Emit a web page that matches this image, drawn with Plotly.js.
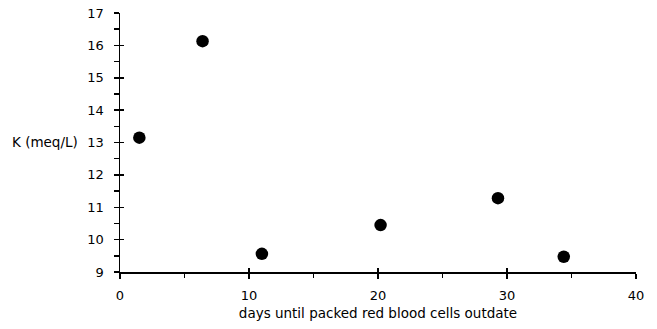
<!DOCTYPE html>
<html>
<head>
<meta charset="utf-8">
<script src="https://cdn.plot.ly/plotly-3.0.1.min.js"></script>
<style>html,body{margin:0;padding:0;background:#fff;}#chart{width:657px;height:329px;}</style>
</head>
<body>
<div id="chart"></div>
<script>
var days = [1.5, 6.4, 11.0, 20.2, 29.3, 34.4];
var potassium = [13.15, 16.13, 9.56, 10.45, 11.28, 9.47];
var xTickVals = [0, 10, 20, 30, 40];
var yTickVals = [9, 10, 11, 12, 13, 14, 15, 16, 17];
var xTitle = 'days until packed red blood cells outdate';
var yTitle = 'K (meq/L)';

var tickFont = {family: 'DejaVu Sans, sans-serif', size: 13, color: '#000'};
var titleFont = {family: 'DejaVu Sans, sans-serif', size: 13.5, color: '#000'};

var trace = {
  x: days, y: potassium, type: 'scatter', mode: 'markers',
  marker: {color: '#000', size: 12.5},
  hoverinfo: 'none', showlegend: false
};
var ghost = {x: [], y: [], xaxis: 'x2', yaxis: 'y2', type: 'scatter', mode: 'markers', showlegend: false};

var layout = {
  width: 657, height: 329,
  margin: {l: 120, r: 21, t: 13, b: 57},
  paper_bgcolor: '#fff', plot_bgcolor: '#fff',
  font: tickFont,
  showlegend: false,
  xaxis: {
    range: [0, 40], tickvals: xTickVals, ticktext: xTickVals.map(String),
    showgrid: false, zeroline: false, showline: true, linecolor: '#000', linewidth: 1.5,
    ticks: 'outside', ticklen: 5, tickwidth: 1.5, tickcolor: '#000',
    minor: {dtick: 5, ticks: 'outside', ticklen: 4, tickwidth: 1.5, tickcolor: '#000', showgrid: false},
    tickfont: tickFont, ticklabelstandoff: 6,
    title: {text: xTitle, font: titleFont, standoff: 6}
  },
  yaxis: {
    range: [9, 17], tickvals: yTickVals, ticktext: yTickVals.map(String),
    showgrid: false, zeroline: false, showline: true, linecolor: '#000', linewidth: 1.5,
    ticks: 'outside', ticklen: 5, tickwidth: 1.5, tickcolor: '#000',
    minor: {dtick: 0.5, ticks: 'outside', ticklen: 5, tickwidth: 1.5, tickcolor: '#000', showgrid: false},
    tickfont: tickFont, ticklabelstandoff: 7
  },
  xaxis2: {
    overlaying: 'x', range: [0, 40], tickvals: xTickVals, showticklabels: false,
    showgrid: false, zeroline: false, showline: false,
    ticks: 'inside', ticklen: 4, tickwidth: 1.5, tickcolor: '#000', anchor: 'y2', side: 'bottom'
  },
  yaxis2: {
    overlaying: 'y', range: [9, 17], tickvals: yTickVals, showticklabels: false,
    showgrid: false, zeroline: false, showline: false,
    ticks: 'inside', ticklen: 4, tickwidth: 1.5, tickcolor: '#000', anchor: 'x2', side: 'left'
  },
  annotations: [{
    text: yTitle, xref: 'paper', yref: 'y', x: 0, y: 13, xanchor: 'right', yanchor: 'middle',
    xshift: -40, yshift: 1, showarrow: false, font: titleFont
  }]
};

Plotly.newPlot('chart', [trace, ghost], layout, {staticPlot: true, displayModeBar: false});
</script>
</body>
</html>
